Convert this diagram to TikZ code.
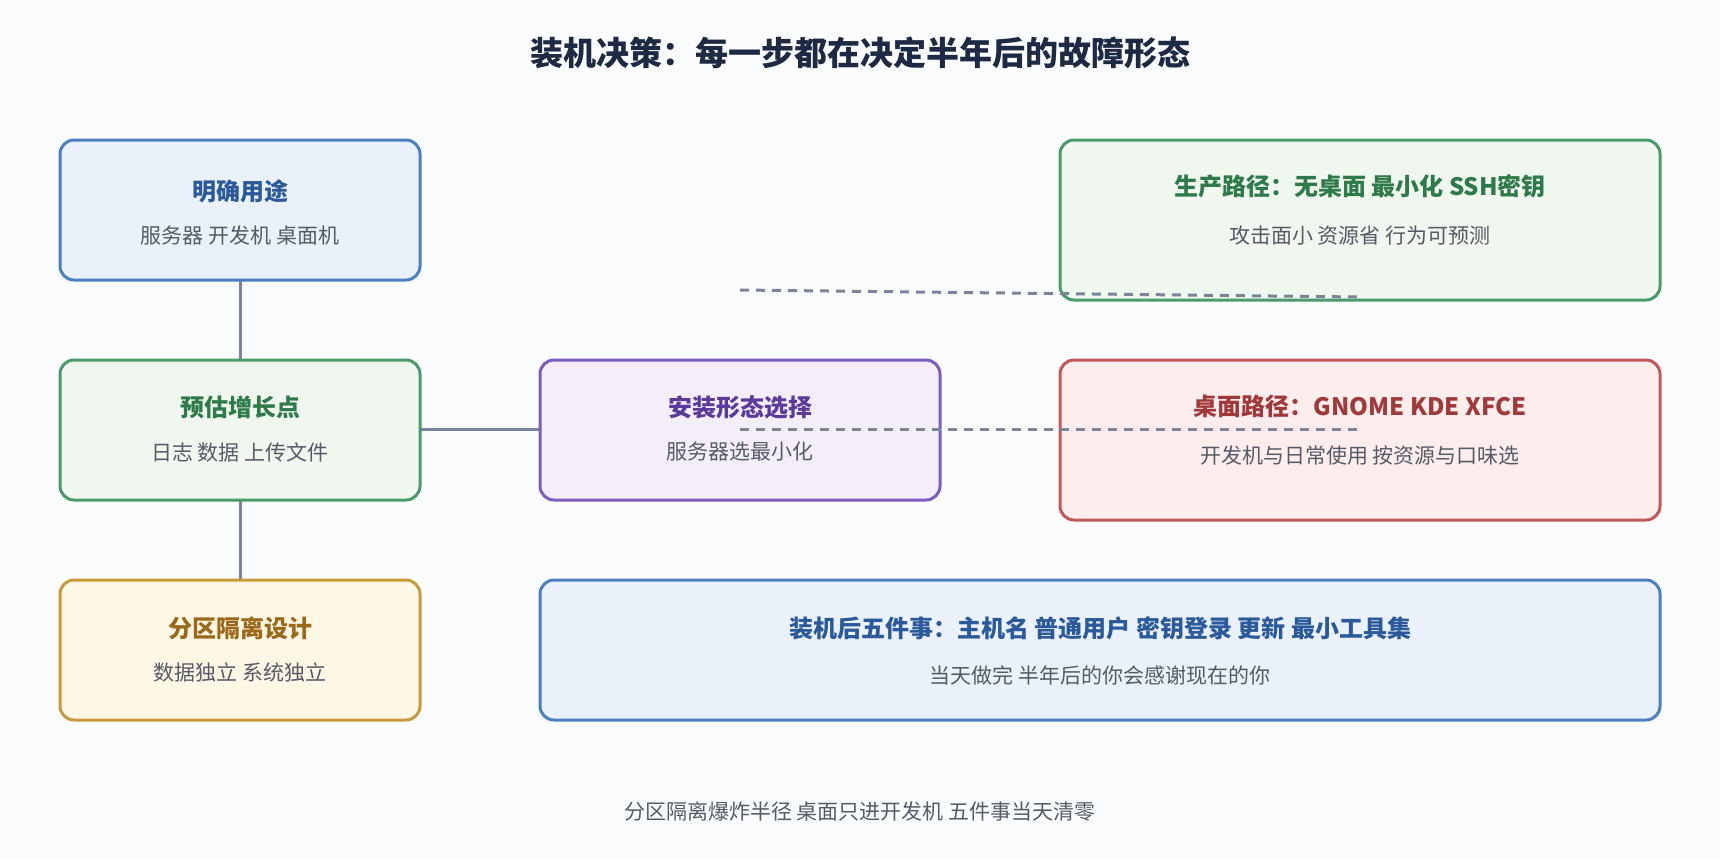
\documentclass[tikz,border=0pt]{standalone}
\usepackage{fontspec}
\setmainfont{Noto Sans CJK SC}
\definecolor{bg}{HTML}{FBFCFE}
\definecolor{bB}{HTML}{4A7FC1}\definecolor{fB}{HTML}{EAF1FA}\definecolor{tB}{HTML}{2A5A9A}
\definecolor{bG}{HTML}{4A9A6A}\definecolor{fG}{HTML}{EFF7EE}\definecolor{tG}{HTML}{2E7A4A}
\definecolor{bY}{HTML}{C99A3A}\definecolor{fY}{HTML}{FFF7E6}\definecolor{tY}{HTML}{9A6A1A}
\definecolor{bP}{HTML}{7B5CC0}\definecolor{fP}{HTML}{F4EEFA}\definecolor{tP}{HTML}{5A3A9A}
\definecolor{bR}{HTML}{C05A5A}\definecolor{fR}{HTML}{FDEEED}\definecolor{tR}{HTML}{A03A3A}
\definecolor{sub}{HTML}{555B66}\definecolor{ln}{HTML}{7A8599}\definecolor{ttl}{HTML}{1E2A44}
\tikzset{box/.style={draw=#1,line width=3pt,rounded corners=14pt},
 hd/.style={font=\fontsize{24}{28}\selectfont\bfseries,text=#1},
 sb/.style={font=\fontsize{21}{25}\selectfont,text=sub},
 conn/.style={draw=ln,line width=3pt},
 dashd/.style={draw=ln,line width=3pt,dash pattern=on 9pt off 7pt}}
\begin{document}
\begin{tikzpicture}[x=1pt,y=-1pt]
\fill[bg] (0,0) rectangle (1720,860);
\useasboundingbox (0,0) rectangle (1720,860);
\node[font=\fontsize{33}{38}\selectfont\bfseries,text=ttl] (title) at (860,53) {装机决策：每一步都在决定半年后的故障形态};
\draw[conn] (240,280) -- (240,360);
\draw[conn] (240,500) -- (240,580);
\draw[conn] (420,429) -- (540,429);
\path[box=bB,fill=fB] (60,140) rectangle (420,280);
\path[box=bG,fill=fG] (60,360) rectangle (420,500);
\path[box=bY,fill=fY] (60,580) rectangle (420,720);
\path[box=bP,fill=fP] (540,360) rectangle (940,500);
\path[box=bG,fill=fG] (1060,140) rectangle (1660,300);
\path[box=bR,fill=fR] (1060,360) rectangle (1660,520);
\path[box=bB,fill=fB] (540,580) rectangle (1660,720);
\draw[dashd] (740,290) -- (1360,297);
\draw[dashd] (740,429) -- (1360,429);
\node[hd=tB] (a) at (240,191) {明确用途};
\node[sb] (a2) at (240,236) {服务器 开发机 桌面机};
\node[hd=tG] (b) at (240,407) {预估增长点};
\node[sb] (b2) at (240,452) {日志 数据 上传文件};
\node[hd=tY] (c) at (240,628) {分区隔离设计};
\node[sb] (c2) at (240,672) {数据独立 系统独立};
\node[hd=tP] (d) at (740,407) {安装形态选择};
\node[sb] (d2) at (740,452) {服务器选最小化};
\node[hd=tG] (e) at (1360,186) {生产路径：无桌面 最小化 SSH密钥};
\node[sb] (e2) at (1360,236) {攻击面小 资源省 行为可预测};
\node[hd=tR] (f) at (1360,406) {桌面路径：GNOME KDE XFCE};
\node[sb] (f2) at (1360,456) {开发机与日常使用 按资源与口味选};
\node[hd=tB] (g) at (1100,628) {装机后五件事：主机名 普通用户 密钥登录 更新 最小工具集};
\node[sb] (g2) at (1100,675) {当天做完 半年后的你会感谢现在的你};
\node[sb] (foot) at (860,812) {分区隔离爆炸半径 桌面只进开发机 五件事当天清零};
\end{tikzpicture}
\end{document}
